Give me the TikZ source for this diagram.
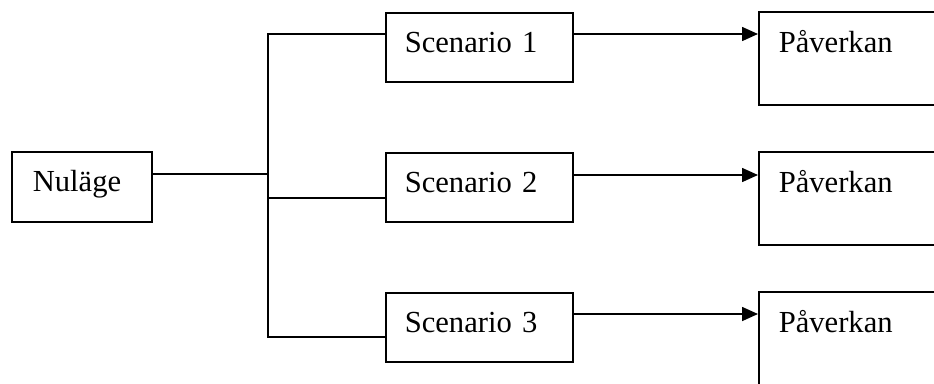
\documentclass[tikz,border=0pt]{standalone}
\usepackage{fontspec}
\setmainfont{Liberation Serif}
\usetikzlibrary{arrows.meta,calc}
\tikzset{
  box/.style={draw, line width=1.6pt, inner ysep=0pt, align=left, anchor=north west,
    font=\fontsize{30.6}{36}\selectfont},
  nubox/.style={box, inner xsep=21pt, text width=98pt, text height=40pt, text depth=30pt},
  scbox/.style={box, inner xsep=19pt, text width=149pt, text height=40pt, text depth=29pt},
  pabox/.style={box, inner xsep=20pt, text width=170pt, text height=41pt, text depth=52pt},
  conn/.style={line width=1.6pt},
  arr/.style={conn, -{Triangle[length=16pt,width=14pt]}}
}
\begin{document}
\begin{tikzpicture}[x=1pt,y=-1pt]
\useasboundingbox (0,0) rectangle (934,383);
\clip (0,0) rectangle (934,383);
\node[nubox] (n) at (11,151) {Nuläge};
\node[scbox] (s1) at (385,12) {Scenario 1};
\node[scbox] (s2) at (385,152) {Scenario 2};
\node[scbox] (s3) at (385,292) {Scenario 3};
\node[pabox] (p1) at (758,11) {Påverkan};
\node[pabox] (p2) at (758,151) {Påverkan};
\node[pabox] (p3) at (758,291) {Påverkan};
\coordinate (j0) at (268,174);
\coordinate (ja) at (268,34);
\coordinate (jm) at (268,198);
\coordinate (jb) at (268,337);
\draw[conn] ([yshift=-23pt]n.north east) -- (j0);
\draw[conn] ([yshift=-22pt]s1.north west) -- (ja) -- (jb) -- ([yshift=-45pt]s3.north west);
\draw[conn] (jm) -- ([yshift=-46pt]s2.north west);
\draw[arr] ([yshift=-22pt]s1.north east) -- ([yshift=-23pt]p1.north west);
\draw[arr] ([yshift=-23pt]s2.north east) -- ([yshift=-24pt]p2.north west);
\draw[arr] ([yshift=-22pt]s3.north east) -- ([yshift=-23pt]p3.north west);
\end{tikzpicture}
\end{document}
